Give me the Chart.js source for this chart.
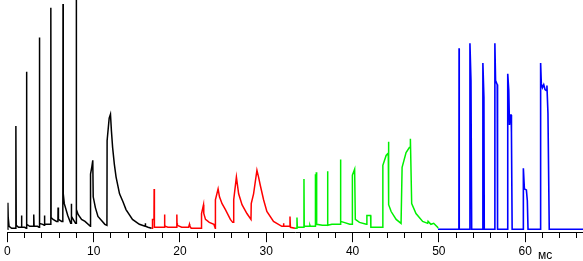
<!DOCTYPE html>
<html>
<head>
<meta charset="utf-8">
<script src="https://cdn.jsdelivr.net/npm/chart.js@4/dist/chart.umd.min.js"></script>
<style>
  html, body { margin: 0; padding: 0; background: #fff; }
  #wrap { width: 583px; height: 261px; }
</style>
</head>
<body>
<div id="wrap"><canvas id="trace"></canvas></div>
<script>
// Trace values: time in ms, level in arbitrary units above baseline
const blackTime = [0, 0.05, 0.07, 0.1, 0.2, 0.5, 0.97, 0.99, 1.03, 1.3, 1.62, 1.64, 1.68, 2.0, 2.19, 2.21, 2.23, 2.25, 2.27, 2.6, 3.04, 3.06, 3.1, 3.5, 3.67, 3.69, 3.72, 3.74, 3.78, 4.1, 4.28, 4.3, 4.34, 4.8, 5.02, 5.04, 5.07, 5.3, 5.7, 5.86, 5.88, 5.92, 6.3, 6.43, 6.45, 6.48, 6.6, 7.0, 7.34, 7.38, 7.41, 7.45, 7.9, 7.96, 7.98, 8.02, 8.2, 8.6, 9.0, 9.62, 9.64, 9.8, 9.9, 9.95, 10.2, 10.5, 11.3, 11.54, 11.56, 11.8, 11.95, 12.06, 12.2, 12.4, 12.6, 13.0, 13.4, 13.75, 14.5, 15.3, 15.96, 15.98, 16.02, 16.3, 16.7];
const blackLevel = [0, 0, 27, 12, 3, 1, 1, 105, 4, 2, 2, 14, 2, 2, 1, 160, 10, 54, 5, 3, 3, 15, 3, 3, 2, 195, 8, 165, 6, 5, 4, 14, 5, 5, 5, 225, 12, 10, 8, 8, 22, 10, 8, 8, 229, 36, 26, 14, 6, 6, 26, 13, 6, 6, 233, 20, 15, 10, 8, 3, 56, 64, 70, 33, 22, 13, 5, 4, 90, 113, 117, 100, 83, 66, 53, 36, 28, 20, 10, 5, 3, 6, 3, 2, 1];

const redTime = [16.7, 16.8, 16.82, 16.99, 17.01, 17.04, 17.5, 18.2, 18.22, 18.24, 18.27, 18.6, 19.6, 19.64, 19.66, 19.7, 20.2, 21.0, 21.1, 21.14, 21.3, 22.48, 22.5, 22.73, 22.76, 22.96, 23.4, 23.93, 24.09, 24.11, 24.42, 24.58, 24.88, 25.27, 25.84, 26.11, 26.21, 26.23, 26.54, 26.8, 27.19, 27.76, 28.23, 28.26, 28.53, 28.92, 29.11, 29.3, 29.69, 30.07, 30.84, 31.8, 31.96, 31.99, 32.05, 32.72, 32.75, 32.8, 33.33];
const redLevel = [1, 1, 10, 10, 41, 2, 2, 2, 15, 5, 3, 2, 2, 15, 6, 4, 2, 2, 5, 3, 1, 1, 16, 25, 16, 10, 7, 5, 1, 30, 41, 33, 26, 20, 10, 7, 7, 30, 53, 36, 25, 16, 10, 26, 36, 60, 53, 45, 30, 18, 8, 3, 3, 6, 3, 3, 13, 2, 1];

const greenTime = [33.33, 33.54, 33.56, 33.6, 34.35, 34.37, 34.4, 35.04, 35.06, 35.1, 35.66, 35.68, 35.72, 35.8, 35.84, 36.5, 37.08, 37.1, 37.14, 37.6, 38.57, 38.6, 38.64, 39.0, 39.67, 39.96, 39.98, 40.24, 40.32, 40.8, 41.59, 41.65, 41.67, 42.09, 42.12, 43.49, 43.51, 43.89, 44.09, 44.14, 44.16, 44.2, 44.47, 45.05, 45.62, 45.72, 45.74, 46.2, 46.58, 46.68, 46.7, 46.85, 47.35, 48.12, 48.7, 48.75, 49.08, 49.4, 49.85, 49.9];
const greenLevel = [1, 1, 12, 2, 2, 51, 3, 3, 4, 3, 3, 56, 5, 58, 5, 4, 4, 59, 4, 5, 5, 71, 8, 7, 5, 5, 55, 61, 10, 7, 5, 5, 14, 14, 2, 2, 65, 75, 77, 77, 89, 25, 18, 10, 6, 6, 63, 78, 83, 83, 92, 26, 16, 8, 6, 8, 5, 6, 2, 1];

const blueTime = [49.9, 52.32, 52.34, 52.36, 53.58, 53.6, 53.72, 53.8, 55.08, 55.1, 55.22, 55.26, 56.47, 56.49, 56.57, 56.76, 56.8, 57.96, 57.98, 58.1, 58.18, 58.29, 58.37, 58.41, 58.49, 59.77, 59.79, 59.91, 60.14, 60.25, 60.33, 61.77, 61.79, 61.87, 62.0, 62.15, 62.3, 62.44, 62.52, 62.64, 62.79, 66.7];
const blueLevel = [0, 0, 184, 0, 0, 189, 151, 0, 0, 169, 134, 0, 0, 189, 151, 147, 0, 0, 158, 141, 106, 116, 116, 98, 0, 0, 62, 41, 40, 29, 0, 0, 169, 148, 144, 147, 142, 141, 146, 118, 0, 0];

const xMin = 0;
const xMax = 66.7;
const majorStep = 10;
const minorStep = 2;
const unitLabel = 'мс';

function toPoints(times, levels) {
    return times.map((t, i) => ({ x: t, y: levels[i] }));
}

function makeSeries(times, levels, color, width) {
    return {
        data: toPoints(times, levels),
        borderColor: color,
        borderWidth: width,
        pointRadius: 0,
        tension: 0,
        fill: false
    };
}

// draws the unit name next to the last labelled tick
const unitPlugin = {
    id: 'unitLabel',
    afterDraw(chart) {
        const ctx = chart.ctx;
        const xScale = chart.scales.x;
        ctx.save();
        ctx.fillStyle = '#000';
        ctx.font = '12px "Liberation Sans", Arial, sans-serif';
        ctx.textBaseline = 'alphabetic';
        ctx.textAlign = 'left';
        ctx.fillText(unitLabel, xScale.getPixelForValue(61.5), 258.5);
        ctx.restore();
    }
};

const chart = new Chart(document.getElementById('trace'), {
    type: 'line',
    data: {
        datasets: [
            makeSeries(blackTime, blackLevel, '#000000', 1.5),
            makeSeries(redTime, redLevel, '#ff0000', 1.5),
            makeSeries(greenTime, greenLevel, '#00f000', 1.5),
            makeSeries(blueTime, blueLevel, '#0000ff', 1.6)
        ]
    },
    options: {
        responsive: true,
        maintainAspectRatio: false,
        animation: false,
        layout: { padding: { left: 4, right: 0, top: 0, bottom: 0 } },
        plugins: { legend: { display: false }, tooltip: { enabled: false } },
        scales: {
            x: {
                type: 'linear',
                min: xMin,
                max: xMax,
                border: { display: true, color: '#000', width: 1 },
                grid: {
                    drawOnChartArea: false,
                    drawTicks: true,
                    tickLength: 10,
                    tickColor: '#000',
                    tickWidth: 1,
                    tickBorderDash: (c) => (c.tick && Math.round(c.tick.value) % majorStep === 0) ? [] : [5, 30]
                },
                ticks: {
                    stepSize: minorStep,
                    autoSkip: false,
                    maxRotation: 0,
                    includeBounds: false,
                    padding: 4,
                    color: '#000',
                    font: { family: '"Liberation Sans", Arial, sans-serif', size: 12, lineHeight: 0.9 },
                    callback: (v) => Math.round(v) % majorStep === 0 ? String(Math.round(v)) : ''
                }
            },
            y: {
                display: false,
                min: -3,
                max: 233
            }
        }
    },
    plugins: [unitPlugin]
});
</script>
</body>
</html>
